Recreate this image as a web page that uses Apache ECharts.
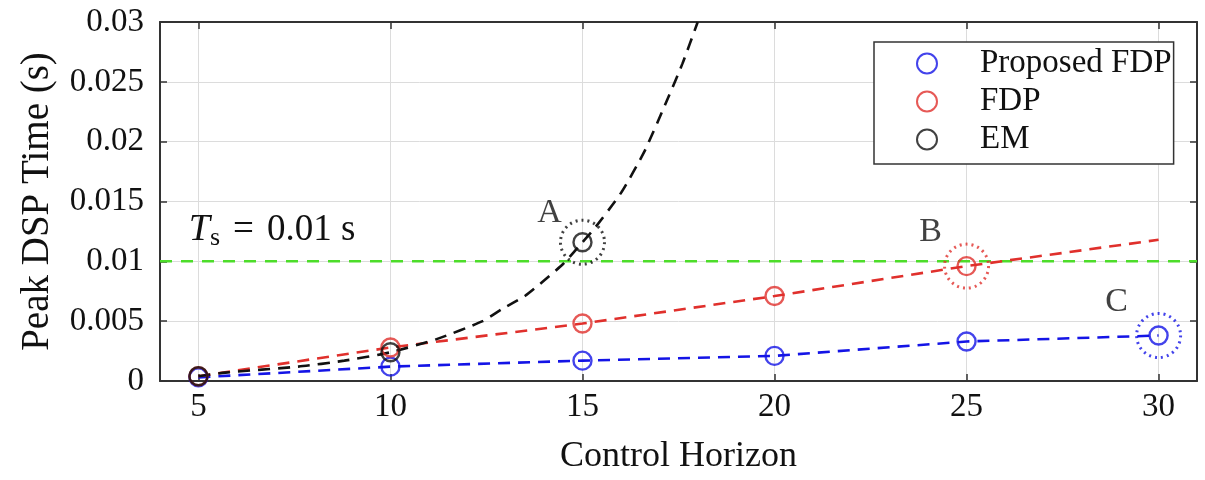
<!DOCTYPE html>
<html>
<head>
<meta charset="utf-8">
<script src="https://cdn.jsdelivr.net/npm/echarts@6/dist/echarts.min.js"></script>
<style>
  html, body { margin: 0; padding: 0; background: #fff; }
  #chart { width: 1205px; height: 480px; }
</style>
</head>
<body>
<div id="chart"></div>
<script>
// Control horizons evaluated
const horizons = [5, 10, 15, 20, 25, 30];
// Measured peak DSP time (s)
const proposedFdp = [0.0003, 0.0012, 0.0017, 0.0021, 0.0033, 0.0038];
const fdp = [0.0004, 0.0028, 0.0048, 0.0071, 0.0096];
const em = [0.0004, 0.0024, 0.0116];
// Dashed trend curves
const fdpTrendX = [5, 10, 15, 20, 25, 30];
const fdpTrendY = [0.0004, 0.0028, 0.0048, 0.0071, 0.0096, 0.0118];
const emTrendX = [5, 5.7, 7.6, 8.8, 10, 11.2, 12.4, 12.9, 13.5, 14, 14.5, 15, 15.3, 16, 16.6, 17.1, 17.6, 18];
const emTrendY = [0.0004, 0.0007, 0.0012, 0.0017, 0.0024, 0.0035, 0.0050, 0.0060, 0.0071, 0.0084, 0.0098,
                  0.0116, 0.0127, 0.0157, 0.0191, 0.0227, 0.0265, 0.0300];
// Sampling time limit
const sampleTime = 0.01;
// Highlighted points: label, horizon, value
const highlightLabels = ['A', 'B', 'C'];
const highlightX = [15, 25, 30];
const highlightY = [em[2], fdp[4], proposedFdp[5]];
const yTicks = [0, 0.005, 0.01, 0.015, 0.02, 0.025, 0.03];

const BLUE = '#1414e6';
const RED = '#e0302c';
const BLACK = '#111111';
const GREEN = '#4ddd2a';
const FONT = '"Liberation Serif", "DejaVu Serif", serif';

const zip = (xs, ys) => xs.map((x, i) => [x, ys[i]]);

const chart = echarts.init(document.getElementById('chart'), null, { renderer: 'canvas' });

const markerSeries = (name, xs, ys, color) => ({
  name, type: 'scatter', data: zip(xs, ys), z: 5,
  symbol: 'circle', symbolSize: 18,
  itemStyle: { color: 'rgba(0,0,0,0)', borderColor: color, borderWidth: 2.4 },
  emphasis: { disabled: true }
});
const trendSeries = (xs, ys, color, smooth) => ({
  type: 'line', data: zip(xs, ys), z: 3, showSymbol: false, symbol: 'none',
  smooth: smooth ? 0.2 : false,
  lineStyle: { color, width: 2.6, type: [12, 8] },
  silent: true, clip: true
});

const highlightColors = [BLACK, RED, BLUE];

const option = {
  animation: false,
  backgroundColor: '#ffffff',
  textStyle: { fontFamily: FONT },
  grid: { left: 160, right: 8, top: 22, bottom: 98, containLabel: false },
  legend: {
    left: 874, top: 42, orient: 'vertical',
    data: ['Proposed FDP', 'FDP', 'EM'],
    backgroundColor: '#fff',
    borderColor: '#333', borderWidth: 1.5, borderRadius: 0,
    padding: [5, 2, 8, 42],
    itemGap: 5, itemWidth: 20, itemHeight: 20,
    textStyle: { fontFamily: FONT, fontSize: 33, lineHeight: 33, color: '#111', padding: [0, 0, 0, 38] },
    selectedMode: false
  },
  xAxis: [{
    type: 'value', min: 4, max: 31, splitNumber: 5,
    name: 'Control Horizon', nameLocation: 'middle', nameGap: 58,
    nameTextStyle: { fontFamily: FONT, fontSize: 36, color: '#111' },
    axisLine: { show: true, onZero: false, lineStyle: { color: '#333', width: 2 } },
    axisTick: { show: true, inside: true, length: 7, lineStyle: { color: '#333', width: 1.5 } },
    axisLabel: { fontFamily: FONT, fontSize: 33, color: '#111', margin: 10, showMinLabel: false, showMaxLabel: false },
    splitLine: { show: true, lineStyle: { color: '#dcdcdc', width: 1 } }
  }, {
    type: 'value', min: 4, max: 31, splitNumber: 5, position: 'top',
    axisLine: { show: true, onZero: false, lineStyle: { color: '#333', width: 2 } },
    axisTick: { show: true, inside: true, length: 7, lineStyle: { color: '#333', width: 1.5 } },
    axisLabel: { show: false }, splitLine: { show: false }
  }],
  yAxis: [{
    type: 'value', min: 0, max: 0.03, interval: 0.005,
    name: 'Peak DSP Time (s)', nameLocation: 'middle', nameGap: 103,
    nameTextStyle: { fontFamily: FONT, fontSize: 39, color: '#111' },
    axisLine: { show: true, onZero: false, lineStyle: { color: '#333', width: 2 } },
    axisTick: { show: true, inside: true, length: 7, lineStyle: { color: '#333', width: 1.5 } },
    axisLabel: { fontFamily: FONT, fontSize: 33, color: '#111', margin: 16,
      formatter: v => { const t = yTicks.find(k => Math.abs(k - v) < 1e-9); return t === undefined ? '' : String(t); } },
    splitLine: { show: true, lineStyle: { color: '#dcdcdc', width: 1 } }
  }, {
    type: 'value', min: 0, max: 0.03, interval: 0.005, position: 'right',
    axisLine: { show: true, onZero: false, lineStyle: { color: '#333', width: 2 } },
    axisTick: { show: true, inside: true, length: 7, lineStyle: { color: '#333', width: 1.5 } },
    axisLabel: { show: false }, splitLine: { show: false }
  }],
  series: [
    // sampling time limit
    {
      type: 'line', data: [[4, sampleTime], [31, sampleTime]], z: 2, symbol: 'none', silent: true,
      lineStyle: { color: GREEN, width: 2.5, type: [12, 9] },
      markPoint: {
        silent: true, symbol: 'circle', symbolSize: 0,
        data: [{ coord: [4.75, 0.0126] }],
        label: {
          show: true, position: 'right', distance: 0,
          formatter: '{t|T}{s|s}{g|}{r|=}{g|}{r|0.01 s}',
          rich: {
            t: { fontFamily: FONT, fontStyle: 'italic', fontSize: 38, color: '#111' },
            s: { fontFamily: FONT, fontSize: 26, color: '#111', verticalAlign: 'bottom', padding: [16, 0, 0, 0] },
            g: { width: 13 },
            r: { fontFamily: FONT, fontSize: 37, color: '#111' }
          }
        }
      }
    },
    trendSeries(horizons, proposedFdp, BLUE, false),
    trendSeries(fdpTrendX, fdpTrendY, RED, false),
    trendSeries(emTrendX, emTrendY, BLACK, true),
    markerSeries('Proposed FDP', horizons, proposedFdp, BLUE),
    markerSeries('FDP', horizons.slice(0, fdp.length), fdp, RED),
    markerSeries('EM', horizons.slice(0, em.length), em, BLACK),
    // dotted rings around highlighted points
    {
      type: 'scatter', z: 6, silent: true, symbol: 'circle', symbolSize: 44,
      data: highlightX.map((x, i) => ({
        value: [x, highlightY[i]],
        itemStyle: { color: 'rgba(0,0,0,0)', borderColor: highlightColors[i], borderWidth: 3, borderType: [2, 4] },
        label: {
          show: true, formatter: highlightLabels[i], position: 'inside',
          offset: [[-33, -29], [-36, -34], [-42, -33]][i],
          fontFamily: FONT, fontSize: 34, color: '#111'
        }
      }))
    }
  ]
};
chart.setOption(option);
</script>
</body>
</html>
